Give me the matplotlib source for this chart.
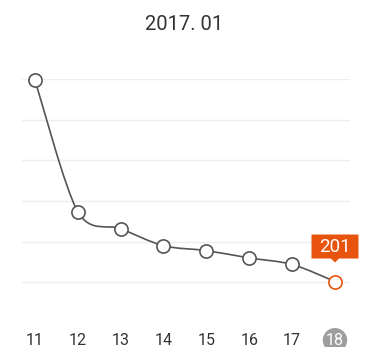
import numpy as np
import matplotlib
matplotlib.use("Agg")
import matplotlib.pyplot as plt
import matplotlib.transforms as mtransforms
from matplotlib.path import Path
from matplotlib.patches import PathPatch, Polygon

plt.rcParams['font.family'] = ['Roboto', 'DejaVu Sans']

# --- data ---
days = [11, 12, 13, 14, 15, 16, 17, 18]
values = [449, 287, 266, 245, 239, 230, 222, 201]
day_labels = ['11', '12', '13', '14', '15', '16', '17', '18']
title = '2017. 01'
y_ticks = [150, 200, 250, 300, 350, 400, 450]

LINE = '#555555'
ORANGE = '#e8530e'
GRID = '#eeeeee'
TEXT = '#333333'

W, H, DPI = 365, 347, 100
fig = plt.figure(figsize=(W / DPI, H / DPI), dpi=DPI)
ax = fig.add_axes([22 / W, 24 / H, (350 - 22) / W, (323 - 79) / H])
ax.set_xlim(10.7, 18.35)
ax.set_ylim(y_ticks[0], y_ticks[-1])

for s in ax.spines.values():
    s.set_visible(False)
ax.set_yticks(y_ticks)
ax.yaxis.set_tick_params(length=0, labelleft=False)
ax.grid(axis='y', color=GRID, lw=1)
ax.set_axisbelow(True)

ax.set_xticks(days)
ax.set_xticklabels(day_labels)
ax.tick_params(axis='x', length=0, pad=7, labelsize=11.5, labelcolor=TEXT)
last_lbl = ax.get_xticklabels()[-1]
last_lbl.set_color('white')
last_lbl.set_bbox(dict(boxstyle='circle,pad=0.2', fc='#9e9e9e', ec='none'))


# cubic bezier smoothing (intensity-based control points)
def cubic_path(xs, ys, intensity=0.15):
    xs = np.asarray(xs, float)
    ys = np.asarray(ys, float)
    n = len(xs)
    verts = [(xs[0], ys[0])]
    codes = [Path.MOVETO]
    for j in range(1, n):
        pp = max(j - 2, 0)
        p = j - 1
        nx = min(j + 1, n - 1)
        c1 = (xs[p] + (xs[j] - xs[pp]) * intensity,
              ys[p] + (ys[j] - ys[pp]) * intensity)
        c2 = (xs[j] - (xs[nx] - xs[p]) * intensity,
              ys[j] - (ys[nx] - ys[p]) * intensity)
        verts += [c1, c2, (xs[j], ys[j])]
        codes += [Path.CURVE4] * 3
    return Path(np.array(verts), codes)


ax.add_patch(PathPatch(cubic_path(days, values), fc='none', ec=LINE, lw=1.2,
                       zorder=2, clip_on=False))
ax.plot(days[:-1], values[:-1], 'o', ms=9.5, mfc='white', mec=LINE, mew=1.2,
        zorder=3, linestyle='none', clip_on=False)
ax.plot(days[-1:], values[-1:], 'o', ms=9.5, mfc='white', mec=ORANGE, mew=1.2,
        zorder=3, linestyle='none', clip_on=False)

# value tag above the latest point (offsets in pixels)
px = fig.dpi / 100
tag_tr = mtransforms.Affine2D().scale(px) + \
    mtransforms.ScaledTranslation(days[-1], values[-1], ax.transData)
tag = Polygon([(-23.5, 23), (-4, 23), (0, 19), (4, 23), (23.5, 23),
               (23.5, 47), (-23.5, 47)], closed=True, fc=ORANGE, ec='none',
              transform=tag_tr, clip_on=False, zorder=5)
ax.add_patch(tag)
ax.text(0, 35, str(values[-1]), transform=tag_tr, ha='center', va='center',
        color='white', fontsize=13.5, zorder=6, clip_on=False)

fig.text(184 / W, 1 - 24 / H, title, ha='center', va='center', fontsize=14.5,
         color=TEXT)

fig.savefig('out.png', dpi=DPI, facecolor='white')
